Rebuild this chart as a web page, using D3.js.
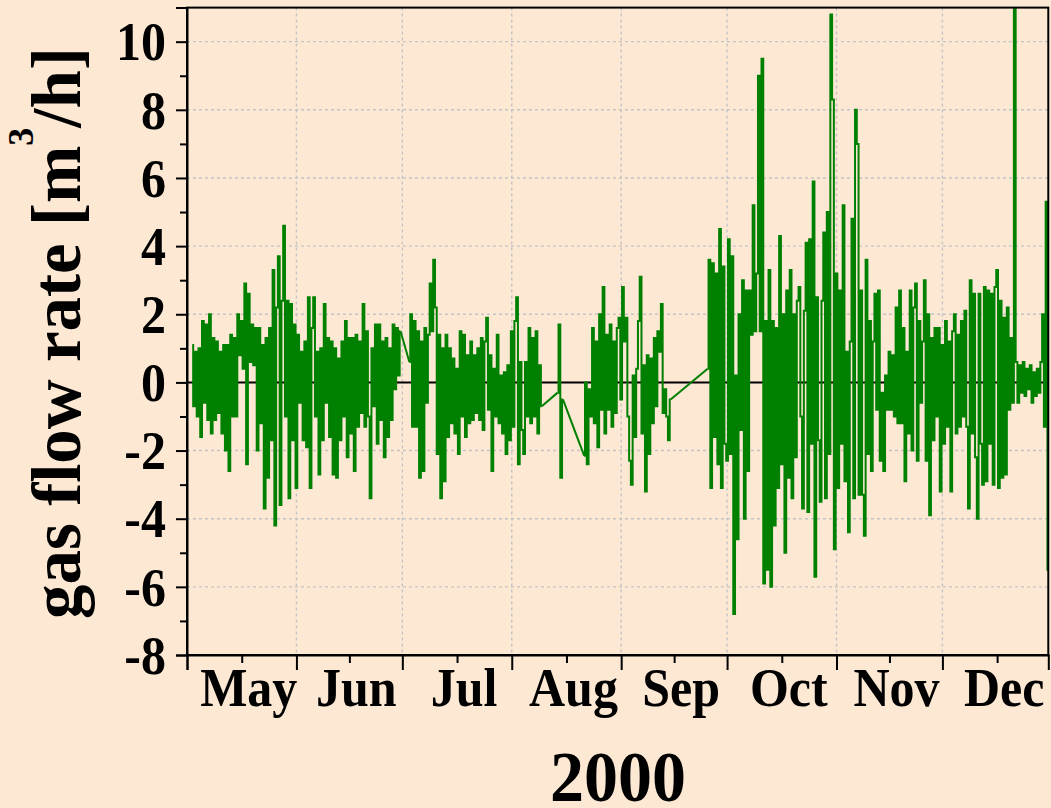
<!DOCTYPE html>
<html>
<head>
<meta charset="utf-8">
<script src="https://cdn.jsdelivr.net/npm/d3@7"></script>
<style>
  html, body { margin: 0; padding: 0; background: #fde8d4; }
  svg { display: block; }
  text { font-family: "Liberation Serif", "Times New Roman", serif; font-weight: bold; fill: #000; }
</style>
</head>
<body>
<svg id="chart" width="1051" height="808"></svg>
<script>
// Gas flow rate readings, one value every 12 hours, in blocks between logger gaps.
const stepHours = 12;

const startA = "2000-05-02T12:00:00Z";
const flowA = [
  1.1, -0.7, 0.9, -1.0, 1.0, -1.6, 1.8, -0.6, 1.7, -1.1,
  2.0, -1.5, 1.3, -1.1, 1.2, -0.9, 0.9, -1.5, 1.1, -2.0,
  1.1, -2.6, 1.4, -1.0, 1.3, -1.0, 2.0, 0.8, 1.8, 0.4,
  2.9, -2.4, 2.6, 0.6, 1.7, 0.5, 1.6, -2.0, 1.6, -1.2,
  1.1, -3.7, 1.3, -2.8, 1.6, -1.7, 3.3, -4.2, 2.2, 3.7,
  -3.6, 2.4, 4.6, -1.0, 2.4, -3.4, 2.3, -1.7, 1.7, -3.1,
  1.4, -0.6, 0.9, -1.7, 1.2, -1.9, 2.5, -3.1, 1.6, 2.5,
  -1.0, 0.9, -2.7, 1.0, -1.7, 2.3, -0.6, 1.3, -1.6, 1.2,
  -2.7, 1.0, -2.8, 0.7, -1.7, 1.2, -1.0, 1.8, -2.2, 1.3,
  -1.5, 1.3, -2.6, 1.4, -1.3, 1.2, -0.9, 2.3, -1.3, 1.5,
  -1.0, -3.4, 1.0, -0.7, 1.7, -1.8, 1.7, -1.1, 1.2, -2.2,
  1.3, -1.6, 1.0, -1.1, 1.7, -0.2, 1.6, 0.2, 1.5
];

const startB = "2000-07-03T00:00:00Z";
const flowB = [
  0.6, 2.0, -1.3, 1.8, -1.3, 1.5, -2.8, 1.2, -2.6, 1.6,
  -0.6, 1.4, 2.9, 1.5, 3.6, 2.2, -2.1, 1.4, -3.4, 1.0,
  -2.9, 1.4, -1.6, 1.0, -1.2, 0.7, -1.5, 0.4, -2.1, 1.5,
  -1.0, 1.4, -1.6, 0.8, -1.2, 1.2, -1.1, 0.8, -0.9, 1.0,
  -1.1, 1.3, -1.4, 1.2, 1.9, -0.8, 0.8, -2.6, 0.4, -1.0,
  1.4, -1.2, 0.2, -1.5, 0.3, -2.1, 0.5, -1.7, 1.5, -1.3,
  1.8, 2.5, -2.4, 0.6, -1.4, -2.1, 0.6, -1.0, 1.6, -1.2,
  1.3, -1.0, 1.5, -1.5, 0.5, -0.7
];

const startC = "2000-08-14T00:00:00Z";
const flowC = [-0.3, 1.7, -2.8, -0.5];

const startD = "2000-08-21T12:00:00Z";
const flowD = [
  -2.15, 0.0, -2.4, -0.2, -1.0, 1.6, -1.2, 1.2, -1.9, 2.0,
  -0.8, 2.8, -1.5, 1.4, -0.8, 1.7, -1.3, 1.2, -0.9, 1.6,
  1.9, -0.5, 2.8, 1.2, 1.9, -1.0, -2.3, -3.0, 0.2, -1.6,
  0.4, 1.8, 3.1, -1.5, 0.5, -3.2, 0.8, -2.1, 0.7, -1.2,
  1.3, -0.7, 1.5, 0.9, 2.3, -0.9, -0.2, -1.0, -1.7, -0.5
];

const startE = "2000-09-25T12:00:00Z";
const flowE = [
  0.4, 3.6, -3.1, 3.5, -1.6, 3.2, -2.4, 4.5, -3.1, 3.4,
  -1.8, -2.3, 4.2, -2.1, 3.7, -6.8, 0.2, -4.6, 2.0, -1.4,
  3.0, -4.0, 2.7, -2.6, 2.7, 1.4, 5.2, 1.5, 3.2, 9.0,
  1.5, 9.5, -5.9, 1.8, -5.5, 3.3, -6.0, 1.8, -4.2, 1.6,
  -3.1, 4.3, -2.4, 2.0, -5.0, 2.7, -2.8, 3.3, -3.4, 2.0,
  -2.2, 2.4, 2.8, -1.0, -3.7, 2.1, 4.1, -3.8, 4.2, -1.8,
  5.9, -5.7, 2.5, -1.7, -3.5, 2.4, 4.4, -3.4, 5.0, -2.1,
  10.8, 8.3, -4.9, 3.2, -3.1, 2.7, -1.8, 5.2, -2.9, 0.9,
  -4.4, 1.2, 4.8, -3.4, 8.0, 7.0, -3.3, 2.7, -3.3, -4.5,
  3.6, -2.1, 1.8, -2.6, 1.2, 2.6, -0.8, 2.7, -2.3, -0.3,
  -2.6, 0.2, -0.8, 0.9, -0.8, 0.8, -1.0, 2.2, -1.2, 2.7,
  -1.2, 1.6, -2.9, 0.9, -1.5, 2.7, -2.0, 2.2, 2.9, -2.3,
  1.8, -0.6, 1.2, 3.0, -2.3, 2.0, -3.9, 1.3, -1.7, 1.6,
  -1.0, 1.6, -3.2, 1.1, -1.8, 1.8, -1.3, 1.2, -3.2, 1.5,
  2.0, -1.5, 1.4, -1.3, 1.8, -1.0, 2.1, -1.3, -3.7, 3.0,
  -1.5, 2.6, -2.2, -4.0, 2.6, -1.8, -3.0, 2.8, -2.9, 2.7,
  -1.8, 2.6, -3.0, 2.8, 3.3, -3.1, 2.4, -2.8, 1.9, -2.7,
  2.2, -0.8, 1.3, -0.6, 11.8, 0.6, -0.6, 0.5, -0.3, 0.6,
  -0.4, 0.4, -0.2, 0.5, -0.6, 0.3, -0.4, 0.4, -0.3, 0.6,
  2.0, -1.3, 5.3, -5.5
];

const yMajorTicks = [-8, -6, -4, -2, 0, 2, 4, 6, 8, 10];
const yMinorTicks = [-7, -5, -3, -1, 1, 3, 5, 7, 9];
const monthLabels = ["May", "Jun", "Jul", "Aug", "Sep", "Oct", "Nov", "Dec"];
const yTitle = "gas flow rate [m";
const yTitleSup = "3";
const yTitleEnd = "/h]";
const xTitle = "2000";

// ---- layout ----
const W = 1051, H = 808;
const plot = { left: 187, right: 1048.3, top: 7.6, bottom: 655 };
const textStretch = 1.08;

const x = d3.scaleUtc()
  .domain([new Date(Date.UTC(2000, 4, 1)), new Date(Date.UTC(2000, 11, 31))])
  .range([plot.left, plot.right]);
const y = d3.scaleLinear().domain([-8, 11]).range([plot.bottom, plot.top]);

function expand(start, values) {
  const t0 = Date.parse(start);
  return values.map((v, i) => ({ t: new Date(t0 + i * stepHours * 3600e3), v }));
}
const segments = [
  expand(startA, flowA), expand(startB, flowB), expand(startC, flowC),
  expand(startD, flowD), expand(startE, flowE)
];
// straight connectors across the logging gaps
const bridges = d3.pairs(segments).map(([a, b]) => [a[a.length - 1], b[0]]);

const svg = d3.select("#chart");
svg.append("rect").attr("width", W).attr("height", H).attr("fill", "#fde8d4");

svg.append("defs").append("clipPath").attr("id", "plotClip")
  .append("rect")
  .attr("x", plot.left).attr("y", plot.top)
  .attr("width", plot.right - plot.left).attr("height", plot.bottom - plot.top);

// month starts (major ticks) and month midpoints (minor ticks, labels)
const monthStarts = d3.utcMonth.range(new Date(Date.UTC(2000, 4, 1)), new Date(Date.UTC(2000, 11, 2)));
const monthMids = monthStarts.map(m => {
  const next = d3.utcMonth.offset(m, 1);
  return new Date((m.getTime() + next.getTime()) / 2);
});

// grid
const grid = svg.append("g").attr("stroke", "#c4c4c4").attr("stroke-width", 1.4)
  .attr("stroke-dasharray", "3,3");
grid.selectAll("line.h").data(yMajorTicks.filter(d => d > -8)).join("line")
  .attr("class", "h")
  .attr("x1", plot.left).attr("x2", plot.right)
  .attr("y1", d => y(d)).attr("y2", d => y(d));
grid.selectAll("line.v").data(monthStarts.slice(1)).join("line")
  .attr("class", "v")
  .attr("y1", plot.top).attr("y2", plot.bottom)
  .attr("x1", d => x(d)).attr("x2", d => x(d));

// zero reference line
svg.append("line")
  .attr("x1", plot.left).attr("x2", plot.right)
  .attr("y1", y(0)).attr("y2", y(0))
  .attr("stroke", "#000").attr("stroke-width", 2);

// series
const series = svg.append("g")
  .attr("clip-path", "url(#plotClip)")
  .attr("fill", "none")
  .attr("stroke", "#008000");
const stepLine = d3.line().x(d => x(d.t)).y(d => y(d.v)).curve(d3.curveStep);
const straight = d3.line().x(d => x(d.t)).y(d => y(d.v));
series.selectAll("path.seg").data(segments).join("path")
  .attr("class", "seg")
  .attr("d", stepLine)
  .attr("stroke-width", 2);
series.selectAll("path.gap").data(bridges).join("path")
  .attr("class", "gap")
  .attr("d", straight)
  .attr("stroke-width", 2);

// frame
svg.append("rect")
  .attr("x", plot.left).attr("y", plot.top)
  .attr("width", plot.right - plot.left).attr("height", plot.bottom - plot.top)
  .attr("fill", "none").attr("stroke", "#000").attr("stroke-width", 2);

// y axis
const yAxisMajor = svg.append("g").attr("transform", `translate(${plot.left},0)`)
  .call(d3.axisLeft(y).tickValues(yMajorTicks).tickSize(11).tickFormat(d => String(d)));
yAxisMajor.select(".domain").attr("stroke-width", 2);
yAxisMajor.selectAll(".tick line").attr("stroke-width", 2);
yAxisMajor.selectAll(".tick text")
  .attr("x", null).attr("dy", null)
  .attr("text-anchor", "end")
  .attr("font-size", 50)
  .attr("font-family", null)
  .attr("transform", `translate(-21, ${0.676 * 50 * textStretch / 2}) scale(1, ${textStretch})`);

const yAxisMinor = svg.append("g").attr("transform", `translate(${plot.left},0)`)
  .call(d3.axisLeft(y).tickValues(yMinorTicks).tickSize(7).tickFormat(""));
yAxisMinor.select(".domain").remove();
yAxisMinor.selectAll(".tick line").attr("stroke-width", 2);

// x axis
const xAxisMajor = svg.append("g").attr("transform", `translate(0,${plot.bottom})`)
  .call(d3.axisBottom(x).tickValues(monthStarts).tickSize(15).tickFormat(""));
xAxisMajor.select(".domain").attr("stroke-width", 2);
xAxisMajor.selectAll(".tick line").attr("stroke-width", 2);

const xAxisMinor = svg.append("g").attr("transform", `translate(0,${plot.bottom})`)
  .call(d3.axisBottom(x).tickValues(monthMids).tickSize(8).tickFormat(""));
xAxisMinor.select(".domain").remove();
xAxisMinor.selectAll(".tick line").attr("stroke-width", 2);

svg.append("g").selectAll("text").data(monthMids).join("text")
  .attr("text-anchor", "middle")
  .attr("font-size", 50)
  .attr("transform", d => `translate(${x(d) + 7}, 706) scale(1, ${textStretch})`)
  .text((d, i) => monthLabels[i]);

// axis titles
svg.append("text")
  .attr("text-anchor", "middle")
  .attr("font-size", 68)
  .attr("transform", `translate(618, 801) scale(1, 1.07)`)
  .text(xTitle);

const yt = svg.append("text")
  .attr("text-anchor", "middle")
  .attr("font-size", 69)
  .attr("transform", `translate(80, 333) rotate(-90)`);
yt.append("tspan").text(yTitle);
yt.append("tspan").attr("font-size", 36).attr("dy", -47).text(yTitleSup);
yt.append("tspan").attr("dy", 47).text(yTitleEnd);
</script>
</body>
</html>
